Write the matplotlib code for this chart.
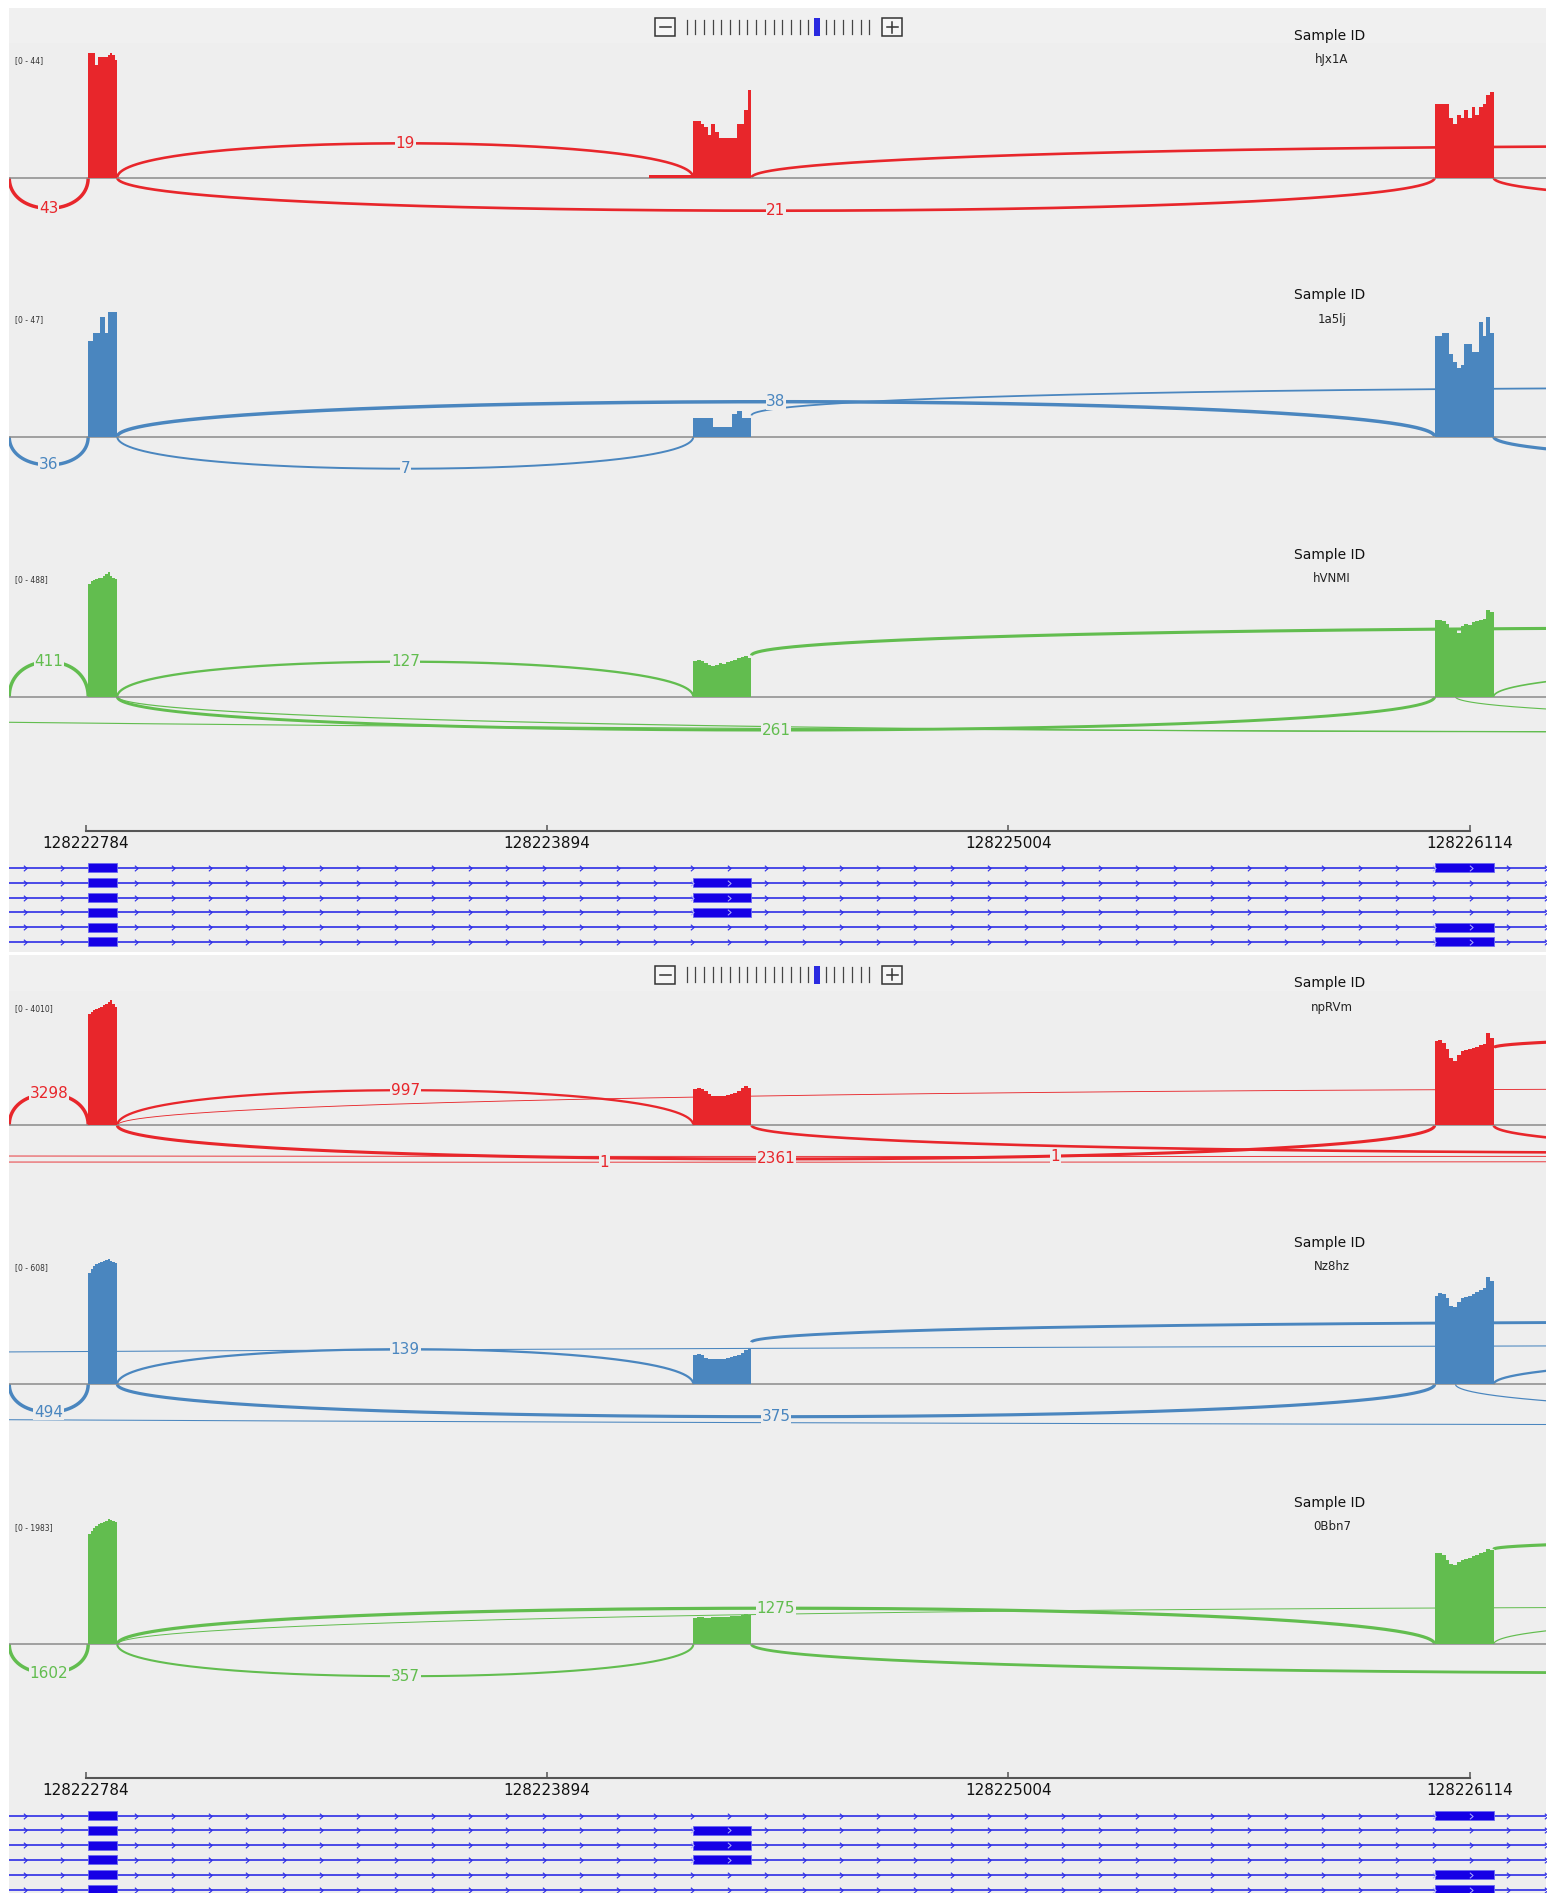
import numpy as np
import matplotlib.pyplot as plt
from matplotlib.patches import Rectangle
from matplotlib.path import Path

# ---------------- data ----------------
tick_pos = [128222784, 128223894, 128225004, 128226114]
exon_start = [128222790, 128224246, 128226030]
exon_end = [128222860, 128224386, 128226172]
transcript_exons = [[0, 2], [0, 1], [0, 1], [0, 1], [0, 2], [0, 2]]

sample_ids = ['hJx1A', '1a5lj', 'hVNMI', 'npRVm', 'Nz8hz', '0Bbn7']
data_max = [44, 47, 488, 4010, 608, 1983]

cov_exon1 = [
    [43.8, 43.8, 43.8, 39.7, 42.6, 42.6, 42.6, 42.6, 43.2, 44, 43.2, 41.4],
    [36, 36, 39, 39, 39, 45, 45, 39, 47, 47, 47, 47],
    [440, 450, 455, 460, 462, 465, 470, 478, 488, 470, 465, 460],
    [3560, 3620, 3680, 3720, 3760, 3800, 3850, 3900, 3950, 4010, 3900, 3780],
    [540, 560, 575, 585, 590, 595, 600, 605, 608, 600, 595, 590],
    [1750, 1800, 1850, 1880, 1900, 1920, 1940, 1960, 1983, 1970, 1960, 1940],
]
cov_exon2 = [
    [20, 20, 19, 18, 15, 19, 16, 14, 14, 14, 14, 14, 19, 19, 24, 31],
    [6.9, 6.9, 6.9, 6.9, 3.8, 3.8, 3.8, 3.8, 8.7, 9.7, 6.9, 6.9],
    [140, 145, 140, 130, 125, 118, 125, 130, 128, 135, 140, 145, 150, 155, 160, 150],
    [1150, 1190, 1170, 1100, 1000, 950, 940, 950, 940, 960, 990, 1030, 1100, 1180, 1250, 1200],
    [140, 146, 140, 128, 124, 122, 125, 122, 124, 128, 130, 135, 140, 150, 165, 170],
    [420, 430, 425, 415, 420, 425, 430, 425, 430, 435, 440, 445, 450, 460, 477, 470],
]
cov_exon3 = [
    [26, 26, 26, 26, 21, 19, 22, 21, 24, 21, 25, 22, 25, 26, 29, 30],
    [38, 38, 39, 39, 31, 28, 26, 27, 35, 35, 32, 32, 43, 38, 45, 39],
    [299, 299, 295, 285, 266, 262, 250, 275, 285, 280, 290, 295, 300, 305, 338, 330],
    [2700, 2720, 2650, 2450, 2150, 2060, 2250, 2380, 2420, 2450, 2480, 2520, 2560, 2600, 2960, 2800],
    [430, 444, 440, 420, 380, 374, 400, 420, 425, 430, 440, 450, 460, 470, 520, 500],
    [1440, 1450, 1420, 1330, 1270, 1258, 1300, 1330, 1350, 1370, 1400, 1420, 1440, 1460, 1506, 1490],
]
# low coverage stretch before exon 2 in the first sample: (start, end, depth)
low_cov = [[(128224140, 128224246, 1)], [], [], [], [], []]

# junctions: (start, end, count, side, apex as share of range, lift as share of range)
junctions = [
    [(128222600, 128222790, 43, -1, 0.245, 0), (128222860, 128224246, 19, 1, 0.275, 0),
     (128222860, 128226030, 21, -1, 0.264, 0), (128224386, 128229000, 20, 1, 0.252, 0),
     (128226172, 128230000, 20, -1, 0.25, 0)],
    [(128222600, 128222790, 36, -1, 0.226, 0), (128222860, 128226030, 38, 1, 0.28, 0),
     (128222860, 128224246, 7, -1, 0.256, 0), (128224386, 128229169, 5, 1, 0.22, 0.17),
     (128226172, 128230000, 30, -1, 0.25, 0)],
    [(128222600, 128222790, 411, 1, 0.28, 0), (128222860, 128224246, 127, 1, 0.28, 0),
     (128222860, 128226030, 261, -1, 0.267, 0), (128224386, 128229169, 300, 1, 0.22, 0.33),
     (128226172, 128229000, 40, 1, 0.27, 0), (128222860, 128229763, 8, -1, 0.28, 0),
     (128220500, 128236000, 5, -1, 0.288, 0), (128226080, 128230000, 5, -1, 0.2, 0)],
    [(128222600, 128222790, 3298, 1, 0.25, 0), (128222860, 128224246, 997, 1, 0.28, 0),
     (128222860, 128230961, 1, 1, 0.29, 0), (128226172, 128231000, 2500, 1, 0.125, 0.62),
     (128222860, 128226030, 2361, -1, 0.27, 0), (128224386, 128229000, 1500, -1, 0.22, 0),
     (128226172, 128230000, 1500, -1, 0.25, 0), (128209663, 128238401, 1, -1, 0.296, 0),
     (128210748, 128239486, 1, -1, 0.25, 0)],
    [(128222600, 128222790, 494, -1, 0.224, 0), (128222860, 128224246, 139, 1, 0.28, 0),
     (128222860, 128226030, 375, -1, 0.26, 0), (128224386, 128229169, 300, 1, 0.16, 0.336),
     (128218000, 128242000, 3, 1, 0.32, 0), (128217000, 128241000, 3, -1, 0.33, 0),
     (128226172, 128229000, 150, 1, 0.24, 0), (128226080, 128230000, 10, -1, 0.27, 0)],
    [(128222600, 128222790, 1602, -1, 0.232, 0), (128222860, 128224246, 357, -1, 0.256, 0),
     (128222860, 128226030, 1275, 1, 0.288, 0), (128222860, 128231000, 5, 1, 0.296, 0),
     (128226172, 128231000, 1200, 1, 0.1, 0.76), (128224386, 128229000, 900, -1, 0.23, 0),
     (128226172, 128229000, 30, 1, 0.24, 0)],
]

# ---------------- layout (pixels of the 1554x1893 picture) ----------------
W, H = 1554, 1893
BG = '#eeeeee'
HEAD = '#f0f0f0'
track_colors = ['#e8262b', '#4a86bf', '#62bd4f']
BLUE = '#2d2de6'
BOX = '#1500e6'

LEFT_PX, RIGHT_PX = 9, 1546
TICK0_PX, TICK_STEP_PX = 85.7, 461.3
bp_per_px = (tick_pos[1] - tick_pos[0]) / TICK_STEP_PX
VIEW_L = tick_pos[0] - (TICK0_PX - LEFT_PX) * bp_per_px
VIEW_R = tick_pos[0] + (RIGHT_PX - TICK0_PX) * bp_per_px

panel_off = [0, 947.5]
panel_top = [7.5, 955]
panel_bot = [952, 1893]
base_px = [177.7, 436.7, 696.7]
RANGE_PX = 125.0


def fig_rect(x0, y0, x1, y1):
    return [x0 / W, 1 - y1 / H, (x1 - x0) / W, (y1 - y0) / H]


def arc_xy(s, e, apex, lift, n=4000):
    t = np.linspace(0, 1, n)
    x = s + (e - s) * (3 * t ** 2 - 2 * t ** 3)
    y = lift + 3 * t * (1 - t) * apex / 0.75
    return x, y


fig = plt.figure(figsize=(W / 100, H / 100), dpi=100)
bg = fig.add_axes([0, 0, 1, 1])
bg.set_xlim(0, W)
bg.set_ylim(H, 0)
bg.axis('off')

chev = Path([(-0.35, 0.6), (0.35, 0.0), (-0.35, -0.6)],
            [Path.MOVETO, Path.LINETO, Path.LINETO])

for p in range(2):
    off = panel_off[p]
    bg.add_patch(Rectangle((LEFT_PX, panel_top[p]), RIGHT_PX - LEFT_PX,
                           panel_bot[p] - panel_top[p], color=BG, lw=0))
    bg.add_patch(Rectangle((LEFT_PX, panel_top[p]), RIGHT_PX - LEFT_PX,
                           35.5, color=HEAD, lw=0))

    # zoom widget
    wy = 27 + off
    for bx, sign in [(655, '-'), (882, '+')]:
        bg.add_patch(Rectangle((bx, wy - 9), 20, 18, fc='#f6f6f6', ec='#333333', lw=1.1))
        bg.plot([bx + 4.5, bx + 15.5], [wy, wy], color='#333333', lw=1.1)
        if sign == '+':
            bg.plot([bx + 10, bx + 10], [wy - 5.5, wy + 5.5], color='#333333', lw=1.1)
    for k in range(22):
        xk = 686.5 + 8.7 * k
        if k == 15:
            bg.add_patch(Rectangle((xk - 2.8, wy - 9), 5.6, 18, color='#2a2ae0', lw=0))
        else:
            bg.plot([xk, xk], [wy - 7.5, wy + 7], color='#444444', lw=0.9)

    # sample tracks
    for j in range(3):
        i = 3 * p + j
        base = base_px[j] + off
        ymax = data_max[i]
        col = track_colors[j]
        ax = fig.add_axes(fig_rect(LEFT_PX, base - 150, RIGHT_PX, base + 65))
        ax.set_xlim(VIEW_L, VIEW_R)
        ax.set_ylim(-65 / RANGE_PX * ymax, 150 / RANGE_PX * ymax)
        ax.axis('off')
        ax.patch.set_alpha(0)

        ax.axhline(0, color='#8a8a8a', lw=1.1, zorder=2)
        top_count = max(c for (_, _, c, _, _, _) in junctions[i])
        for (s, e, c, side, apex, lift) in junctions[i]:
            x, y = arc_xy(s, e, apex * ymax, lift * ymax)
            lw = 0.6 + 1.9 * np.sqrt(c / top_count)
            ax.plot(x, side * y, color=col, lw=lw, zorder=1.5, solid_capstyle='butt')
            xc = (s + e) / 2
            if VIEW_L < xc < VIEW_R:
                ax.text(xc, side * (lift + apex) * ymax, str(c), color=col, fontsize=11,
                        ha='center', va='center', zorder=5,
                        bbox=dict(boxstyle='square,pad=0.05', fc=BG, ec='none'))

        for k, prof in enumerate([cov_exon1[i], cov_exon2[i], cov_exon3[i]]):
            edges = np.linspace(exon_start[k], exon_end[k], len(prof) + 1)
            ax.stairs(prof, edges, fill=True, color=col, lw=0, zorder=3)
        for (s, e, v) in low_cov[i]:
            ax.stairs([v], [s, e], fill=True, color=col, lw=0, zorder=3)

        bg.text(15, base - 116.7, '[0 - %d]' % ymax, fontsize=5.5, color='#333333',
                ha='left', va='center')
        bg.text(1330, base - 141.7, 'Sample ID', fontsize=10, color='#111111',
                ha='center', va='center')
        bg.text(1332, base - 117.7, sample_ids[i], fontsize=8.5, color='#222222',
                ha='center', va='center')

    # ruler
    ry = 831 + off
    rax = fig.add_axes(fig_rect(LEFT_PX, ry - 20, RIGHT_PX, ry + 25))
    rax.set_xlim(VIEW_L, VIEW_R)
    rax.set_ylim(ry + 25, ry - 20)
    rax.axis('off')
    rax.patch.set_alpha(0)
    rax.plot([tick_pos[0], tick_pos[-1]], [ry, ry], color='#555555', lw=1.5)
    rax.vlines(tick_pos, ry - 6, ry, color='#555555', lw=1.1)
    for tp in tick_pos:
        rax.text(tp, ry + 12.5, str(tp), fontsize=11, color='#111111', ha='center', va='center')

    # gene track
    row0 = 868 + off
    gtop, gbot = row0 - 9, min(row0 + 14.8 * 5 + 9, H)
    gax = fig.add_axes(fig_rect(LEFT_PX, gtop, RIGHT_PX, gbot))
    gax.set_xlim(VIEW_L, VIEW_R)
    gax.set_ylim(gbot, gtop)
    gax.axis('off')
    gax.patch.set_alpha(0)
    chev_x = np.arange(24.5, RIGHT_PX, 37.1)
    chev_g = tick_pos[0] + (chev_x - TICK0_PX) * bp_per_px
    for r, ex in enumerate(transcript_exons):
        yr = row0 + 14.8 * r
        gax.plot([VIEW_L, VIEW_R], [yr, yr], color=BLUE, lw=1.2, zorder=1)
        inside = np.zeros(len(chev_g), bool)
        for k in ex:
            gax.add_patch(Rectangle((exon_start[k], yr - 4.5), exon_end[k] - exon_start[k], 9,
                                    fc=BOX, ec='#6a6af0', lw=0.6, zorder=2))
            m = (chev_g > exon_start[k] - 3) & (chev_g < exon_end[k] + 3)
            inside |= m
            if k > 0:
                gax.plot(chev_g[m], [yr] * m.sum(), ls='none', marker=chev, ms=4,
                         mec='#b0b0ff', mfc='none', mew=0.7, zorder=3)
        near1 = (chev_g > exon_start[0] - 5) & (chev_g < exon_end[0] + 5)
        keep = ~inside & ~near1
        gax.plot(chev_g[keep], [yr] * keep.sum(), ls='none', marker=chev, ms=4,
                 mec=BLUE, mfc='none', mew=0.8, zorder=1)

fig.savefig('out.png', dpi=100)
